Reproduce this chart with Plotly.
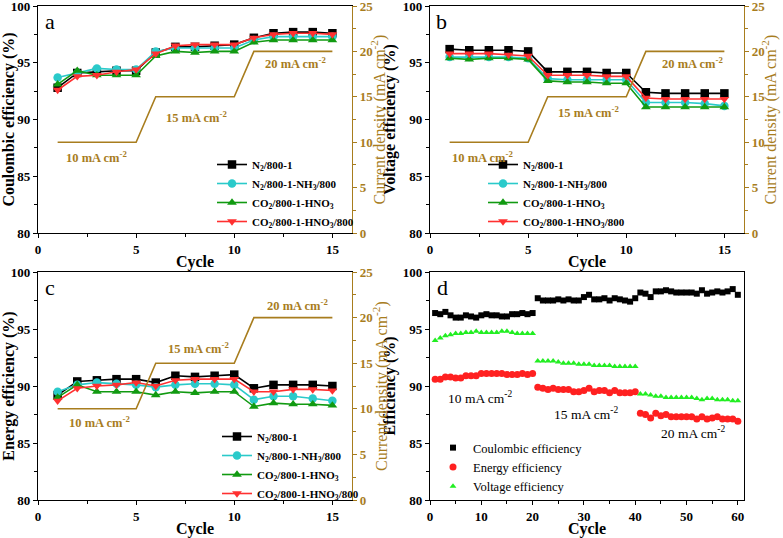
import plotly.graph_objects as go

cycles15 = list(range(1, 16))
cycles60 = list(range(1, 61))
current_density = [10] * 5 + [15] * 5 + [20] * 5

series_names = [
    "N<sub>2</sub>/800-1",
    "N<sub>2</sub>/800-1-NH<sub>3</sub>/800",
    "CO<sub>2</sub>/800-1-HNO<sub>3</sub>",
    "CO<sub>2</sub>/800-1-HNO<sub>3</sub>/800",
]

# Panel a: Coulombic efficiency
ce_n2 = [92.8, 94.1, 94.2, 94.3, 94.3, 95.9, 96.4, 96.4, 96.5, 96.6, 97.2, 97.6, 97.7, 97.7, 97.6]
ce_nh3 = [93.7, 94.1, 94.5, 94.4, 94.4, 96.0, 96.3, 96.3, 96.3, 96.3, 97.0, 97.3, 97.3, 97.3, 97.3]
ce_hno3 = [93.1, 94.3, 93.9, 93.9, 93.9, 95.6, 96.0, 95.9, 96.0, 96.0, 96.8, 97.0, 97.0, 97.0, 97.0]
ce_hno3_800 = [92.6, 93.8, 93.9, 94.2, 94.4, 95.8, 96.5, 96.6, 96.6, 96.6, 97.2, 97.5, 97.6, 97.6, 97.5]

# Panel b: Voltage efficiency
ve_n2 = [96.2, 96.1, 96.1, 96.1, 96.0, 94.2, 94.2, 94.2, 94.1, 94.1, 92.4, 92.3, 92.3, 92.3, 92.3]
ve_nh3 = [95.5, 95.5, 95.5, 95.5, 95.4, 93.6, 93.5, 93.5, 93.5, 93.5, 91.5, 91.5, 91.5, 91.4, 91.2]
ve_hno3 = [95.4, 95.3, 95.4, 95.4, 95.3, 93.4, 93.3, 93.3, 93.2, 93.2, 91.1, 91.1, 91.1, 91.1, 91.1]
ve_hno3_800 = [95.8, 95.8, 95.8, 95.7, 95.6, 93.9, 93.9, 93.9, 93.8, 93.8, 91.9, 91.8, 91.8, 91.8, 91.8]

# Panel c: Energy efficiency
ee_n2 = [89.2, 90.4, 90.5, 90.6, 90.6, 90.3, 90.9, 90.8, 90.9, 91.0, 89.8, 90.1, 90.1, 90.1, 90.0]
ee_nh3 = [89.5, 90.1, 90.3, 90.2, 90.1, 89.9, 90.1, 90.2, 90.2, 90.1, 88.8, 89.1, 89.1, 88.9, 88.7]
ee_hno3 = [89.0, 90.1, 89.5, 89.5, 89.5, 89.2, 89.5, 89.4, 89.5, 89.5, 88.2, 88.5, 88.4, 88.4, 88.3]
ee_hno3_800 = [88.7, 89.8, 90.0, 90.1, 90.3, 90.0, 90.5, 90.6, 90.6, 90.6, 89.5, 89.5, 89.7, 89.7, 89.6]

# Panel d: long cycling
d_coulombic = [96.4, 96.3, 96.5, 96.2, 96.0, 96.0, 96.2, 96.1, 96.0, 96.2,
               96.3, 96.2, 96.2, 96.1, 96.1, 96.3, 96.3, 96.4, 96.3, 96.4,
               97.7, 97.5, 97.5, 97.5, 97.6, 97.5, 97.6, 97.5, 97.5, 97.8,
               98.0, 97.6, 97.6, 97.7, 97.5, 97.7, 97.6, 97.5, 97.4, 97.7,
               98.2, 98.1, 97.8, 98.3, 98.3, 98.4, 98.3, 98.2, 98.2, 98.2,
               98.2, 98.1, 98.4, 98.1, 98.2, 98.3, 98.2, 98.3, 98.5, 98.0]
d_energy = [90.6, 90.6, 90.8, 90.8, 90.7, 90.7, 90.9, 90.9, 90.9, 91.1,
            91.1, 91.1, 91.1, 91.1, 91.0, 91.0, 91.0, 91.1, 91.0, 91.1,
            89.9, 89.8, 89.7, 89.8, 89.7, 89.7, 89.7, 89.5, 89.5, 89.6,
            89.8, 89.5, 89.6, 89.6, 89.4, 89.6, 89.4, 89.4, 89.4, 89.5,
            87.6, 87.5, 87.2, 87.6, 87.4, 87.5, 87.3, 87.3, 87.3, 87.3,
            87.3, 87.1, 87.3, 87.1, 87.2, 87.3, 87.1, 87.1, 87.1, 86.9]
d_voltage = [94.0, 94.2, 94.4, 94.5, 94.6, 94.6, 94.7, 94.7, 94.8, 94.7,
             94.7, 94.7, 94.7, 94.8, 94.8, 94.7, 94.6, 94.6, 94.6, 94.6,
             92.2, 92.2, 92.2, 92.2, 92.1, 92.0, 92.0, 92.0, 91.9, 91.9,
             91.9, 91.8, 91.8, 91.8, 91.8, 91.7, 91.7, 91.7, 91.7, 91.7,
             89.3, 89.3, 89.2, 89.1, 89.1, 89.0, 89.0, 89.0, 89.0, 89.0,
             89.0, 88.9, 88.8, 88.9, 88.9, 88.8, 88.8, 88.8, 88.7, 88.7]

FONT = "Liberation Serif"
GOLD = "#A87D1E"
colors = ["#000000", "#2ACACA", "#119A11", "#FF3030"]
symbols = ["square", "circle", "triangle-up", "triangle-down"]

W, H = 783, 538


def px_x(a, b):
    return [a / W, b / W]


def px_y(top, bottom):
    return [1 - bottom / H, 1 - top / H]


fig = go.Figure()

panels = [
    ("x", "y", "y2", "legend", [ce_n2, ce_nh3, ce_hno3, ce_hno3_800]),
    ("x2", "y3", "y4", "legend2", [ve_n2, ve_nh3, ve_hno3, ve_hno3_800]),
    ("x3", "y5", "y6", "legend3", [ee_n2, ee_nh3, ee_hno3, ee_hno3_800]),
]

for xa, ya, y2a, leg, data in panels:
    fig.add_trace(go.Scatter(
        x=cycles15, y=current_density, xaxis=xa, yaxis=y2a, mode="lines",
        line=dict(color=GOLD, width=1.6), showlegend=False, hoverinfo="skip"))
    for name, vals, col, sym in zip(series_names, data, colors, symbols):
        fig.add_trace(go.Scatter(
            x=cycles15, y=vals, xaxis=xa, yaxis=ya, mode="lines+markers", name=name,
            legend=leg, line=dict(color=col, width=1.6),
            marker=dict(color=col, symbol=sym, size=8.5)))

d_series = [
    ("Coulombic efficiency", d_coulombic, "#000000", "square", 6),
    ("Energy efficiency", d_energy, "#FF2020", "circle", 7),
    ("Voltage efficiency", d_voltage, "#22EE22", "triangle-up", 6),
]
for name, vals, col, sym, sz in d_series:
    fig.add_trace(go.Scatter(
        x=cycles60, y=vals, xaxis="x4", yaxis="y7", mode="markers", name=name,
        legend="legend4", marker=dict(color=col, symbol=sym, size=sz)))

tickfont = dict(family=FONT, size=13, color="black", weight="bold")
titlefont = dict(family=FONT, size=16, color="black", weight="bold")
goldtick = dict(family=FONT, size=13, color=GOLD, weight="bold")
goldtitle = dict(family=FONT, size=16, color=GOLD)


def xaxis(domain, anchor, rng, dtick, minor):
    return dict(domain=domain, anchor=anchor, range=rng, dtick=dtick, tick0=0,
                showgrid=False, zeroline=False, showline=True, linecolor="black",
                linewidth=1.3, mirror=True, ticks="outside", ticklen=4,
                tickcolor="black", tickwidth=1.2, tickfont=tickfont,
                ticklabeloverflow="allow",
                minor=dict(dtick=minor, ticks="outside", ticklen=2.5, tickcolor="black", tick0=0),
                title=dict(text="Cycle", font=titlefont, standoff=0), automargin=False)


def yaxis(domain, anchor, title, mirror=False):
    return dict(domain=domain, anchor=anchor, range=[80, 100], dtick=5,
                showgrid=False, zeroline=False, showline=True, linecolor="black",
                linewidth=1.3, mirror=mirror, ticks="outside", ticklen=4,
                tickcolor="black", tickwidth=1.2, tickfont=tickfont,
                ticklabeloverflow="allow",
                minor=dict(dtick=2.5, ticks="outside", ticklen=2.5, tickcolor="black"),
                title=dict(text=title, font=titlefont, standoff=3), automargin=False)


def y2axis(anchor, overlay):
    return dict(anchor=anchor, overlaying=overlay, side="right", range=[0, 25], dtick=5,
                showgrid=False, zeroline=False, showline=True, linecolor=GOLD,
                linewidth=1.3, ticks="outside", ticklen=4, tickcolor=GOLD,
                tickfont=goldtick, ticklabeloverflow="allow",
                minor=dict(dtick=2.5, ticks="outside", ticklen=2.5, tickcolor=GOLD),
                automargin=False)


xa_dom = px_x(38, 352)
xb_dom = px_x(430, 744)
ytop_dom = px_y(6, 233)
ybot_dom = px_y(272, 500)

fig.update_layout(
    width=W, height=H, margin=dict(l=0, r=0, t=0, b=0),
    paper_bgcolor="white", plot_bgcolor="white",
    font=dict(family=FONT),
    xaxis=xaxis(xa_dom, "y", [0, 16], 5, 2.5),
    yaxis=yaxis(ytop_dom, "x", "Coulombic efficiency (%)"),
    yaxis2=y2axis("x", "y"),
    xaxis2=xaxis(xb_dom, "y3", [0, 16], 5, 2.5),
    yaxis3=yaxis(ytop_dom, "x2", "Voltage efficiency (%)"),
    yaxis4=y2axis("x2", "y3"),
    xaxis3=xaxis(xa_dom, "y5", [0, 16], 5, 2.5),
    yaxis5=yaxis(ybot_dom, "x3", "Energy efficiency (%)"),
    yaxis6=y2axis("x3", "y5"),
    xaxis4=xaxis(xb_dom, "y7", [0, 61.2], 10, 5),
    yaxis7=yaxis(ybot_dom, "x4", "Efficiency (%)", mirror=True),
)

legfont = dict(family=FONT, size=11, color="black", weight="bold")
leg_common = dict(bgcolor="rgba(0,0,0,0)", borderwidth=0, font=legfont,
                  xanchor="left", yanchor="top", tracegroupgap=0, itemwidth=30)
fig.update_layout(
    legend=dict(x=212 / W, y=1 - 150 / H, **leg_common),
    legend2=dict(x=483 / W, y=1 - 150 / H, **leg_common),
    legend3=dict(x=217 / W, y=1 - 422 / H, **leg_common),
    legend4=dict(x=433 / W, y=1 - 433 / H, bgcolor="rgba(0,0,0,0)",
                 font=dict(family=FONT, size=12.5, color="black"),
                 xanchor="left", yanchor="top", itemwidth=30),
)

annots = []
lab_gold = dict(family=FONT, size=12.5, color=GOLD, weight="bold")
for xr, yr, pts in [("x", "y", [(3.0, 86.7), (8.1, 90.2), (13.1, 95.0)]),
                    ("x2", "y3", [(2.7, 86.7), (8.1, 90.7), (13.4, 95.0)]),
                    ("x3", "y5", [(3.15, 86.8), (8.2, 93.3), (13.2, 97.1)])]:
    for (xv, yv), lbl in zip(pts, ["10", "15", "20"]):
        annots.append(dict(x=xv, y=yv, xref=xr, yref=yr, showarrow=False,
                           text=f"{lbl} mA cm<sup>-2</sup>", font=lab_gold))
for (xv, yv), lbl in zip([(9.7, 89.0), (30.4, 87.6), (51.3, 85.9)], ["10", "15", "20"]):
    annots.append(dict(x=xv, y=yv, xref="x4", yref="y7", showarrow=False,
                       text=f"{lbl} mA cm<sup>-2</sup>",
                       font=dict(family=FONT, size=13.5, color="black")))
for letter, xr, yr in [("a", "x", "y"), ("b", "x2", "y3"), ("c", "x3", "y5")]:
    annots.append(dict(x=0.6, y=98.6, xref=xr, yref=yr, showarrow=False, text=letter,
                       xanchor="center", font=dict(family=FONT, size=22, color="black")))
annots.append(dict(x=2.4, y=98.6, xref="x4", yref="y7", showarrow=False, text="d",
                   xanchor="center", font=dict(family=FONT, size=22, color="black")))
# right-hand axis titles (current density)
for xpx, dom in [(379, ytop_dom), (770, ytop_dom), (380, ybot_dom)]:
    annots.append(dict(x=xpx / W, y=(dom[0] + dom[1]) / 2, xref="paper", yref="paper",
                       showarrow=False, textangle=-90, xanchor="center", yanchor="middle",
                       text="Current density (mA cm<sup>-2</sup>)", font=goldtitle))
fig.update_layout(annotations=annots)

fig.write_html("out.html", config={"displayModeBar": False},
               post_script="document.body.style.margin='0px';")
